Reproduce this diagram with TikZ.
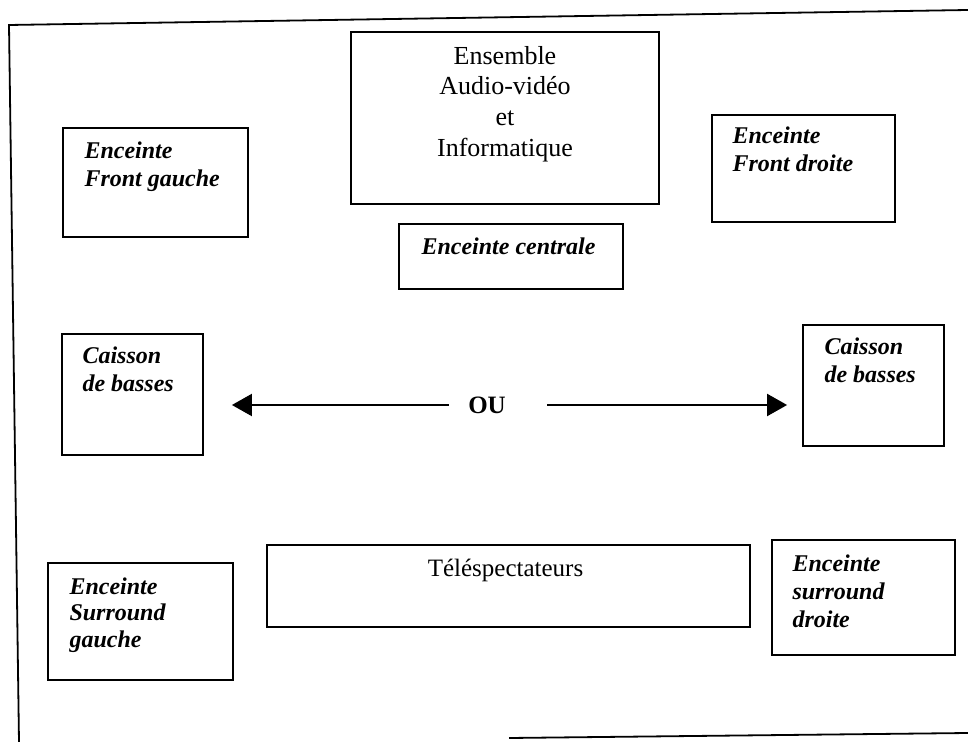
\documentclass[tikz,border=0pt]{standalone}
\usepackage{fontspec}
\setmainfont{Liberation Serif}
\usetikzlibrary{arrows.meta}

\tikzset{
  boite/.style={draw, line width=0.9pt, inner sep=0pt},
  haut/.style={font=\fontsize{12}{14}\selectfont\bfseries\itshape, align=left,
    anchor=base west, inner sep=0pt},
  fleche/.style={line width=1pt, -{Triangle[length=10pt,width=11pt]}},
}

\begin{document}
\begin{tikzpicture}[x=0.5pt, y=-0.5pt]
  \useasboundingbox (0,0) rectangle (968,742);
  % cadre
  \draw[line width=0.9pt] (968,10) -- (9,25) -- (19,742);
  \draw[line width=0.9pt] (509,738) -- (968,733);
  % boites
  \node[boite, minimum width=154pt, minimum height=86pt] (ens) at (505,118) {};
  \node[boite, minimum width=92.5pt, minimum height=54.5pt] (fg) at (155.5,182.5) {};
  \node[boite, minimum width=91.5pt, minimum height=53.5pt] (fd) at (803.5,168.5) {};
  \node[boite, minimum width=112pt, minimum height=32.5pt] (ctr) at (511,256.5) {};
  \node[boite, minimum width=70.5pt, minimum height=60.5pt] (cg) at (132.5,394.5) {};
  \node[boite, minimum width=70.5pt, minimum height=60.5pt] (cd) at (873.5,385.5) {};
  \node[boite, minimum width=241.5pt, minimum height=41pt] (tel) at (508.5,586) {};
  \node[boite, minimum width=92.5pt, minimum height=58.5pt] (sg) at (140.5,621.5) {};
  \node[boite, minimum width=91.5pt, minimum height=57.5pt] (sd) at (863.5,597.5) {};
  % textes (base = derniere ligne)
  \node[font=\fontsize{13}{15.3}\selectfont, align=center, anchor=base, inner sep=0pt]
    (ens-t) at ([shift={(0,125)}]ens.north) {Ensemble\\Audio-vidéo\\et\\Informatique};
  \node[haut] (fg-t) at ([shift={(22,59)}]fg.north west) {Enceinte\\Front gauche};
  \node[haut] (fd-t) at ([shift={(21,57)}]fd.north west) {Enceinte\\Front droite};
  \node[haut] (ctr-t) at ([shift={(23,31)}]ctr.north west) {Enceinte centrale};
  \node[haut] (cg-t) at ([shift={(21,58)}]cg.north west) {Caisson\\de basses};
  \node[haut] (cd-t) at ([shift={(22,58)}]cd.north west) {Caisson\\de basses};
  \node[haut, font=\fontsize{12}{13.25}\selectfont\bfseries\itshape]
    (sg-t) at ([shift={(22,85)}]sg.north west) {Enceinte\\Surround\\gauche};
  \node[haut] (sd-t) at ([shift={(21,88)}]sd.north west) {Enceinte\\surround\\droite};
  \node[font=\fontsize{12.5}{14}\selectfont, anchor=base, inner sep=0pt]
    (tel-t) at ([shift={(-3,32)}]tel.north) {Téléspectateurs};
  % OU
  \node[font=\fontsize{12.5}{14}\selectfont\bfseries, inner sep=0pt] (ou) at (487,405) {OU};
  \draw[fleche, shorten <=9.5pt, shorten >=14pt] (ou.west) -- (ou.west -| cg.east);
  \draw[fleche, shorten <=20.5pt, shorten >=7.5pt] (ou.east) -- (ou.east -| cd.west);
\end{tikzpicture}
\end{document}
